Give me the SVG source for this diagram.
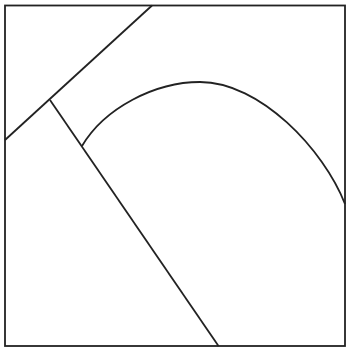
<svg xmlns="http://www.w3.org/2000/svg" width="347" height="349" viewBox="0 0 347 349">
<style>
.s{fill:none;stroke:#222;stroke-width:1.8;stroke-linecap:butt}
</style>
<rect width="347" height="349" fill="#fff"/>
<rect class="s" x="5" y="5.5" width="340" height="340.5"/>
<line class="s" x1="5" y1="140" x2="152" y2="5.5"/>
<line class="s" x1="50" y1="100" x2="218.5" y2="346"/>
<path class="s" d="M82,146 C104.5,108 155,82 200,82 C260,82 323.4,149.2 345,204"/>
</svg>
